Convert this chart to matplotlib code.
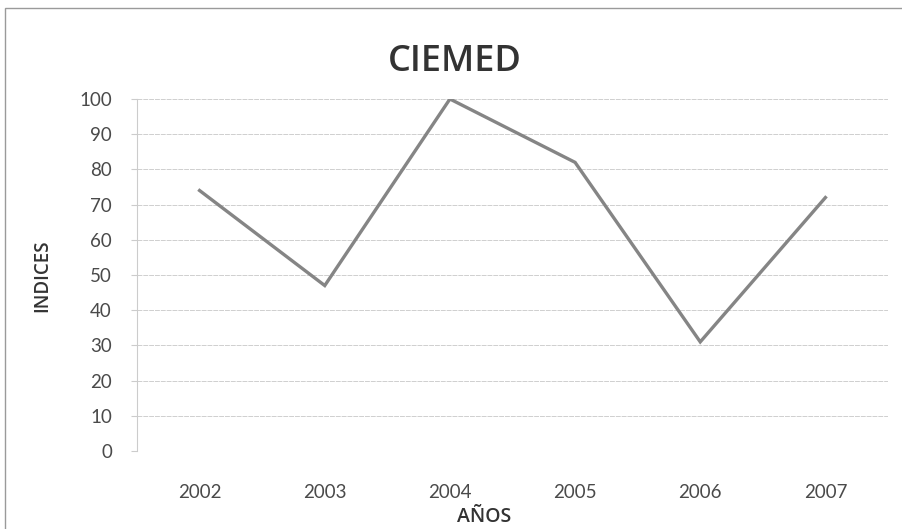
import matplotlib.pyplot as plt
from matplotlib.patches import Rectangle

# datos del gráfico
anios = ["2002", "2003", "2004", "2005", "2006", "2007"]
indices = [74, 47, 100, 82, 31, 72]
yticks = [0, 10, 20, 30, 40, 50, 60, 70, 80, 90, 100]

W, H = 902, 529
fig = plt.figure(figsize=(W / 100, H / 100), dpi=100)
ax = fig.add_axes([137 / W, 1 - 451 / H, (888 - 137) / W, (451 - 99) / H])

x = range(len(anios))
ax.plot(x, indices, color="#858585", lw=2.4, solid_joinstyle="miter")

ax.set_xlim(-0.5, len(anios) - 0.5)
ax.set_ylim(0, 100)
ax.set_yticks(yticks)
ax.set_xticks(list(x))
ax.set_xticklabels(anios)
ax.grid(axis="y", color="#cfcfcf", lw=0.7, ls=(0, (5, 1)))
ax.set_axisbelow(True)

for s in ["top", "right", "bottom"]:
    ax.spines[s].set_visible(False)
ax.spines["left"].set_color("#cccccc")
ax.spines["left"].set_linewidth(0.8)
ax.tick_params(axis="y", length=4, color="#cccccc", labelsize=13.5, labelcolor="#4a4a4a", pad=14)
ax.tick_params(axis="x", length=0, labelsize=13.5, labelcolor="#4a4a4a", pad=24)
for lab in ax.get_xticklabels() + ax.get_yticklabels():
    lab.set_family("Lato")

fig.text(455 / W, 1 - 62 / H, "CIEMED", ha="center", va="center",
         fontsize=26, family="Open Sans", color="#333333", fontweight="semibold")
fig.text(42 / W, 1 - 276 / H, "INDICES", ha="center", va="center", rotation=90,
         fontsize=13.5, family="Open Sans", color="#333333", fontweight="semibold")
fig.text(484 / W, 1 - 517 / H, "AÑOS", ha="center", va="center",
         fontsize=14, family="Open Sans", color="#333333", fontweight="semibold")

# marco del gráfico
fig.patches.append(Rectangle((5 / W, -0.1), 1.2, 1 - 8 / H + 0.1, transform=fig.transFigure,
                             fill=False, edgecolor="#9a9a9a", lw=1.0))

fig.savefig("out.png", dpi=100)
